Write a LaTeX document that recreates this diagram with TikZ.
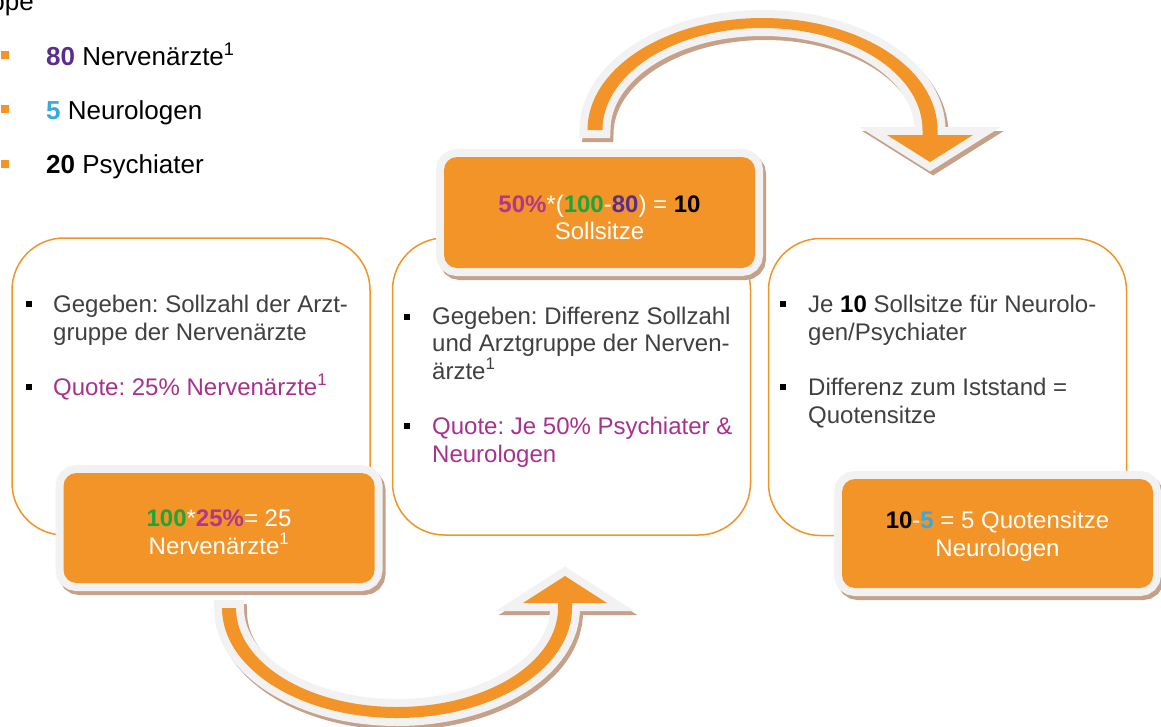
\documentclass[tikz,border=0pt]{standalone}
\usepackage{fontspec}
\setmainfont{Liberation Sans}
\usepackage{tikz}
\usetikzlibrary{positioning}
\frenchspacing

\definecolor{boxor}{HTML}{F29427}
\definecolor{rimgray}{HTML}{F2F2F2}
\definecolor{shadowbr}{HTML}{C6A089}
\definecolor{txtgray}{HTML}{404040}
\definecolor{quotemag}{HTML}{A8318E}
\definecolor{boldmag}{HTML}{B3358F}
\definecolor{numgreen}{HTML}{1BA53A}
\definecolor{numpurple}{HTML}{5B2D8E}
\definecolor{numblue}{HTML}{3AA8DE}

\begin{document}
\begin{tikzpicture}[
  x=1pt, y=1pt,
  font=\fontsize{24}{27.5}\selectfont,
  rimshade/.style={preaction={draw=shadowbr,fill=shadowbr,line width=16pt,transform canvas={shift={(3pt,-4pt)}}},
                   preaction={draw=rimgray,line width=16pt}},
  whitebox/.style={draw=boxor,line width=1.5pt,fill=white,rounded corners=52pt,minimum width=358pt,minimum height=297pt},
  orbox/.style={rimshade,fill=boxor,rounded corners=13pt,inner sep=0pt,minimum width=311pt,minimum height=110pt},
  ortext/.style={align=center,text=white,inner sep=0pt},
  item/.style={anchor=base west,align=left,inner sep=0pt,text=txtgray},
  sqbul/.style={fill=black,minimum size=6pt,inner sep=0pt},
  topbul/.style={fill=boxor,minimum size=8pt,inner sep=0pt},
  topitem/.style={anchor=base west,inner sep=0pt,font=\fontsize{26}{30}\selectfont},
  curvarr/.style={rimshade,fill=boxor,miter limit=10}
]
\useasboundingbox (0,0) rectangle (1161,-726);
\clip (0,0) rectangle (1161,-726);

% list of the Arztgruppe
\node[topitem,anchor=base east] (head) at (34,-10) {ppe};
\node[topbul] (b80) at (4.5,-55) {};
\node[topbul] (b5) at (4.5,-109) {};
\node[topbul] (b20) at (4.5,-164) {};
\node[topitem] (nerv) at (46,-65) {\textbf{\color{numpurple}80} Nervenärzte\textsuperscript{1}};
\node[topitem] (neuro) at (46,-119) {\textbf{\color{numblue}5} Neurologen};
\node[topitem] (psych) at (46,-173) {\textbf{20} Psychiater};

% white boxes
\node[whitebox] (leftbox) at (191,-386.5) {};
\node[whitebox] (midbox) at (571.5,-386.5) {};
\node[whitebox] (rightbox) at (947.5,-387) {};

% bullets in the boxes (items sit on their last line)
\node[sqbul] (bl1) at (29,-304) {};
\node[sqbul] (bl2) at (29,-387) {};
\node[item] (givenl) at (53,-340) {Gegeben: Sollzahl der Arzt-\\gruppe der Nervenärzte};
\node[item,text=quotemag] (quotel) at (53,-395) {Quote: 25\% Nervenärzte\textsuperscript{1}};

\node[sqbul] (bm1) at (407,-317) {};
\node[sqbul] (bm2) at (407,-426) {};
\node[item] (givenm) at (432,-379) {Gegeben: Differenz Sollzahl\\und Arztgruppe der Nerven-\\ärzte\textsuperscript{1}};
\node[item,text=quotemag] (quotem) at (432,-462) {Quote: Je 50\% Psychiater \&\\Neurologen};

\node[sqbul] (br1) at (783,-304) {};
\node[sqbul] (br2) at (783,-387) {};
\node[item] (jer) at (808,-340) {Je \textbf{\color{black}10} Sollsitze für Neurolo-\\gen/Psychiater};
\node[item] (diffr) at (808,-423) {Differenz zum Iststand =\\Quotensitze};

% orange result boxes
\node[orbox,minimum height=111pt] (sollbox) at (599.5,-212.5) {};
\node[orbox] (nervbox) at (219,-528) {};
\node[orbox,minimum height=109pt] (quotbox) at (997.5,-533.5) {};
\node[ortext] (solltext) at ([yshift=-5pt]sollbox.center)
  {\textbf{\color{boldmag}50\%}*(\textbf{\color{numgreen}100}-\textbf{\color{numpurple}80}) = \textbf{\color{black}10}\\Sollsitze};
\node[ortext] (nervtext) at ([yshift=-4pt]nervbox.center)
  {\textbf{\color{numgreen}100}*\textbf{\color{boldmag}25\%}= 25\\Nervenärzte\textsuperscript{1}};
\node[ortext] (quottext) at ([yshift=-3pt]quotbox.center)
  {\textbf{\color{black}10}-\textbf{\color{numblue}5} = 5 Quotensitze\\Neurologen};

% curved arrows
\path[curvarr] (587.5,-130) arc[start angle=180,end angle=0,x radius=175,y radius=112]
  -- (937.5,-135) -- (973,-135) -- (930,-162) -- (887,-135) -- (922.5,-135)
  -- (922.5,-130) arc[start angle=0,end angle=180,x radius=160,y radius=102] -- cycle;
\path[curvarr] (222,-608) arc[start angle=180,end angle=360,x radius=175,y radius=110]
  -- (572,-603) -- (607,-603) -- (565,-576) -- (523,-603) -- (558,-603)
  -- (558,-608) arc[start angle=0,end angle=-180,x radius=161,y radius=99] -- cycle;
\end{tikzpicture}
\end{document}
